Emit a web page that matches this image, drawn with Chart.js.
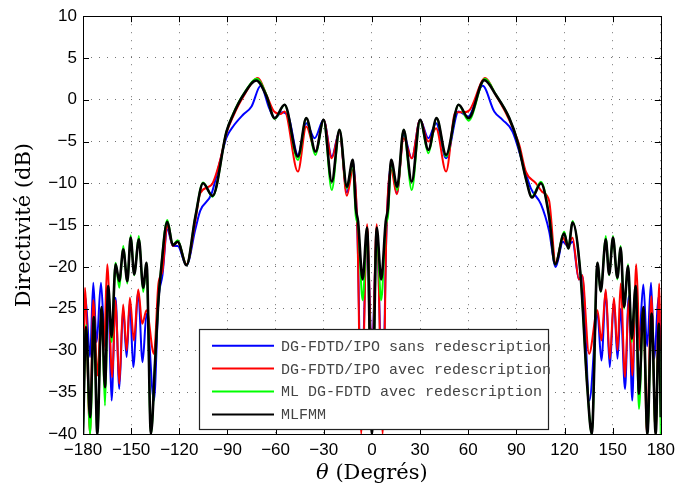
<!DOCTYPE html>
<html>
<head>
<meta charset="utf-8">
<script src="https://cdn.jsdelivr.net/npm/chart.js@4.4.1/dist/chart.umd.min.js"></script>
<style>
  html, body { margin: 0; padding: 0; background: #fff; }
  #wrap { width: 681px; height: 491px; position: relative; }
</style>
</head>
<body>
<div id="wrap"><canvas id="chart" width="681" height="491"></canvas></div>
<script>
// tick labels
const xTicks = [-180, -150, -120, -90, -60, -30, 0, 30, 60, 90, 120, 150, 180];
const yTicks = [-40, -35, -30, -25, -20, -15, -10, -5, 0, 5, 10];

const seriesNames = [
  "DG-FDTD/IPO sans redescription",
  "DG-FDTD/IPO avec redescription",
  "ML DG-FDTD avec redescription",
  "MLFMM",
];

// DG-FDTD/IPO sans redescription (blue)
const blueAngles = [-180, -178.5, -175.6, -173.6, -171.5, -168.8, -166.3, -164.3, -162.2, -159.7, -157.4, -155, -152.8, -150.8, -148.7, -145.6, -142.9, -140.4, -135.8, -133, -130.5, -127.5, -124, -121, -115.5, -110, -107, -100, -94.8, -90.6, -86.5, -80.3, -75, -69.3, -64, -60.6, -56, -52, -46.1, -40.9, -35.7, -30.1, -25, -20.2, -15.6, -11.9, -9, -6.7, -3, 0, 3, 6.7, 9, 12, 15.5, 19.8, 24.8, 30, 35.2, 40, 46.2, 54, 60, 69, 76.2, 81.4, 87.6, 94.9, 99, 105.3, 110.4, 114.5, 119, 122, 125, 129, 131, 135.5, 140.5, 143, 145.7, 148.2, 150.8, 153, 155, 157.7, 160, 162.2, 164.3, 166.5, 169.1, 171.5, 173.9, 176, 178.5, 180];
const blueDb = [-30, -23.6, -30.8, -21.9, -29, -21.9, -29.5, -24, -36, -23.7, -34.6, -25, -30.8, -24.2, -32, -23, -31.4, -25.6, -36, -24, -21, -15.5, -17.5, -17.5, -19.8, -15.5, -13.3, -11.3, -7.5, -4.5, -3.2, -1.8, -0.8, 1.67, -1.0, -2.2, -1.5, -2, -6.6, -2.8, -4.6, -2.4, -6.8, -3.8, -11.1, -7.4, -16, -36, -16.5, -30, -16.5, -36, -16, -7.6, -11.2, -4.2, -7.0, -2.4, -4.6, -2.8, -7.0, -1.4, -2.0, 1.67, -1.4, -2.4, -3.8, -8.2, -10.6, -12.5, -15.7, -20, -17, -17.5, -17, -21.5, -21, -36, -25.6, -31.2, -23, -32, -24, -31, -25, -34.6, -23.5, -36, -22.1, -28.5, -22.1, -29.5, -21.9, -31, -23.6, -30];

// DG-FDTD/IPO avec redescription (red)
const redAngles = [-180, -178.8, -175.6, -173.6, -171, -168.8, -167, -164.9, -161.8, -159.7, -157.4, -155, -152.8, -150.8, -148.3, -145.6, -143.1, -140.4, -135.8, -133, -130.5, -127.5, -124, -121, -115.5, -110, -107, -100, -94.8, -90.6, -86.5, -80.3, -71, -65.5, -61, -57, -54.4, -46.1, -40.9, -35.1, -30.1, -25, -20.2, -15.6, -11.9, -9, -6.7, -3, 0, 3, 6.7, 9, 12, 15.5, 19.8, 24.8, 30, 35.2, 40, 46.2, 52, 57, 61, 70.6, 77.3, 84, 91.8, 95.9, 102.2, 106, 110.4, 114.5, 119, 122, 125, 129, 131, 135.3, 140.5, 143, 145.7, 148.2, 150.8, 153, 155, 157.7, 160, 162.2, 164.7, 167, 169.1, 171.4, 174.1, 176.8, 179, 180];
const redDb = [-36, -22.5, -40, -24, -33, -26, -30, -19.7, -33.2, -24, -34, -24.5, -30, -23.7, -28.8, -22.7, -26.8, -25.2, -30.4, -22, -20.5, -15, -17.5, -17, -19.7, -14.5, -11.2, -10.2, -7.4, -4.0, -2.0, 0.3, 2.6, 0.5, -1.4, -1.7, -1.4, -8.6, -3.2, -6.2, -2.4, -7.0, -3.8, -11.5, -8.4, -16, -40, -14.9, -32, -14.9, -40, -16, -8.4, -11.3, -4.6, -7.0, -2.4, -5.0, -3.4, -8.6, -1.5, -1.5, -1.2, 2.6, 0.5, -1.8, -5.4, -8.6, -10, -11, -12.1, -19.5, -16.5, -17.5, -16.5, -21.5, -21, -30.4, -25.2, -28.8, -22.7, -31, -23.7, -30, -22, -33.2, -24, -33, -19.7, -30, -24.8, -40, -23.5, -40, -22, -30];

// ML DG-FDTD avec redescription (green)
const greenAngles = [-180, -178.1, -175.6, -173.2, -171.1, -168.4, -166.3, -164.3, -162.2, -159.7, -157.4, -154.9, -152.4, -150.3, -148.1, -145.2, -142.5, -140.4, -137.7, -135, -133, -131.5, -127.5, -124, -121, -115.5, -110, -105.2, -99.3, -90.6, -86.5, -80.3, -71.5, -65.8, -60.6, -54.4, -46.1, -40.9, -35.1, -30.1, -25, -20.2, -15.6, -11.9, -10, -8.6, -5.8, -3, 0, 3, 5.8, 8.6, 10, 12, 15.7, 19.8, 24.8, 30, 35.2, 40.3, 46.2, 54, 60.2, 70.5, 77.3, 85.6, 90.7, 95.9, 99.7, 105.3, 110.4, 114.2, 119.8, 122.4, 125, 130, 134.2, 137, 140.5, 142.6, 145.7, 147.8, 150.2, 152.9, 155, 157.1, 159.6, 161.9, 164.3, 166.4, 169.1, 171.6, 174.3, 176.8, 178.8, 180];
const greenDb = [-40, -27, -40, -26, -40, -25, -36.6, -22.3, -29, -19.5, -22.5, -17.5, -22, -16.2, -21, -16.3, -23, -19.5, -40, -31, -24, -20.5, -14.4, -17.4, -16.8, -19.8, -14, -9.9, -11.6, -3.8, -1.7, 0.6, 2.5, 0.6, -2.3, -0.6, -7.2, -2.2, -6.6, -2.4, -10.8, -3.6, -10.6, -7.5, -14, -15, -24, -16, -40, -16, -24, -15, -14, -7.5, -10.8, -3.6, -10.8, -2.4, -6.4, -2.2, -6.8, -0.6, -2.5, 2.5, 0.6, -2.2, -5, -9.4, -11.6, -9.8, -13.8, -19.7, -15.8, -17.8, -14.5, -21, -34.4, -40, -19.5, -23, -16.3, -21, -16.3, -21.5, -17.5, -25, -19.7, -29, -22.3, -37, -25, -40, -26, -40, -27, -40];

// MLFMM (black)
const blackAngles = [-180, -178.1, -175.6, -173.2, -171.1, -168.4, -166.3, -164.3, -162.2, -159.7, -157.4, -154.9, -152.4, -150.3, -148.1, -145.2, -142.5, -140.4, -137.7, -135, -133, -131.5, -127.5, -124, -121, -115.5, -110, -105.2, -99.3, -90.6, -86.5, -80.3, -72, -65.8, -60.6, -54.4, -46.1, -40.9, -35.1, -30.1, -25, -20.2, -15.6, -11.9, -10, -8.6, -5.8, -3, 0, 3, 5.8, 8.6, 10, 12, 15.7, 19.8, 24.8, 30, 35.2, 40.3, 46.2, 54, 60.2, 70, 77.3, 85.6, 90.7, 95.9, 99.7, 105.3, 110.4, 114.2, 119.8, 122.4, 125, 130, 134.2, 137, 140.5, 142.6, 145.7, 147.8, 150.2, 152.9, 155, 157.1, 159.6, 161.9, 164.3, 166.4, 169.1, 171.6, 174.3, 176.8, 178.8, 180];
const blackDb = [-40, -27.2, -38, -26, -40, -24.8, -34.4, -22.3, -28.4, -19.7, -21.7, -17.9, -21.7, -16.5, -20.9, -16.7, -22.5, -19.5, -40, -31, -24, -20.6, -14.6, -17.4, -17, -19.8, -14, -10.0, -11.5, -3.8, -1.8, 0.5, 2.3, 0.5, -2.2, -0.6, -6.8, -2.2, -6.2, -2.4, -9.8, -3.6, -10.4, -7.2, -13, -14.6, -21.5, -15.3, -40, -15.3, -21.5, -14.6, -13, -7.2, -10.4, -3.6, -9.8, -2.4, -6.0, -2.2, -6.6, -0.6, -2.2, 2.35, 0.56, -2.2, -5.0, -9.4, -11.7, -10.0, -14, -19.7, -16, -17.8, -14.7, -21, -34.4, -40, -19.5, -22.9, -16.7, -20.9, -16.5, -21.3, -17.7, -24.8, -19.9, -28.6, -22.3, -35.2, -24.8, -40, -25.6, -40, -26.8, -38];

const toPoints = (xs, ys) => xs.map((x, i) => ({ x: x, y: ys[i] }));
const colors = ["#0000ff", "#ff0000", "#00ff00", "#000000"];

const datasets = [
  { label: seriesNames[0], data: toPoints(blueAngles, blueDb), borderColor: colors[0], borderWidth: 2, order: 4 },
  { label: seriesNames[1], data: toPoints(redAngles, redDb), borderColor: colors[1], borderWidth: 2, order: 3 },
  { label: seriesNames[2], data: toPoints(greenAngles, greenDb), borderColor: colors[2], borderWidth: 2, order: 2 },
  { label: seriesNames[3], data: toPoints(blackAngles, blackDb), borderColor: colors[3], borderWidth: 2.6, order: 1 },
];
datasets.forEach((d) => {
  d.pointRadius = 0;
  d.fill = false;
  d.cubicInterpolationMode = "monotone";
});

const minus = (v) => String(v).replace("-", "\u2212");

// frame, inward ticks, axis titles and legend box
const decorations = {
  id: "decorations",
  afterDraw(chart) {
    const { ctx, chartArea: a, scales } = chart;
    ctx.save();
    ctx.strokeStyle = "#000";
    ctx.lineWidth = 1;
    ctx.beginPath();
    xTicks.forEach((v) => {
      const px = Math.round(scales.x.getPixelForValue(v)) + 0.5;
      ctx.moveTo(px, a.bottom); ctx.lineTo(px, a.bottom - 6);
      ctx.moveTo(px, a.top); ctx.lineTo(px, a.top + 6);
    });
    yTicks.forEach((v) => {
      const py = Math.round(scales.y.getPixelForValue(v)) + 0.5;
      ctx.moveTo(a.left, py); ctx.lineTo(a.left + 6, py);
      ctx.moveTo(a.right, py); ctx.lineTo(a.right - 6, py);
    });
    ctx.stroke();
    ctx.strokeRect(Math.round(a.left) + 0.5, Math.round(a.top) + 0.5, Math.round(a.width), Math.round(a.height));

    // legend
    const bx = 199.5, by = 329.5, bw = 349, bh = 100;
    ctx.fillStyle = "#fff";
    ctx.fillRect(bx, by, bw, bh);
    ctx.strokeStyle = "#222";
    ctx.lineWidth = 1.2;
    ctx.strokeRect(bx, by, bw, bh);
    ctx.font = "15px 'Liberation Mono', 'DejaVu Sans Mono', monospace";
    ctx.textBaseline = "middle";
    ctx.textAlign = "left";
    seriesNames.forEach((name, i) => {
      const y = 345.7 + i * 22.9;
      ctx.strokeStyle = colors[i];
      ctx.lineWidth = 2;
      ctx.beginPath();
      ctx.moveTo(212, y); ctx.lineTo(274, y);
      ctx.stroke();
      ctx.fillStyle = "#444";
      ctx.fillText(name, 281, y + 1);
    });

    // axis titles
    ctx.fillStyle = "#000";
    ctx.textAlign = "center";
    ctx.font = "21px 'DejaVu Serif', serif";
    ctx.save();
    ctx.translate(25, (a.top + a.bottom) / 2);
    ctx.rotate(-Math.PI / 2);
    ctx.fillText("Directivité (dB)", 0, 0);
    ctx.restore();
    const tx = (a.left + a.right) / 2;
    ctx.font = "italic 21px 'DejaVu Serif', serif";
    const th = "\u03b8";
    const rest = " (Degrés)";
    const w1 = ctx.measureText(th).width;
    ctx.font = "21px 'DejaVu Serif', serif";
    const w2 = ctx.measureText(rest).width;
    const start = tx - (w1 + w2) / 2;
    ctx.textAlign = "left";
    ctx.font = "italic 21px 'DejaVu Serif', serif";
    ctx.fillText(th, start, 474);
    ctx.font = "21px 'DejaVu Serif', serif";
    ctx.fillText(rest, start + w1, 474);
    ctx.restore();
  },
};

new Chart(document.getElementById("chart"), {
  type: "line",
  data: { datasets: datasets },
  options: {
    responsive: false,
    animation: false,
    layout: { padding: { top: 14, right: 19, left: 0, bottom: 0 } },
    plugins: { legend: { display: false }, tooltip: { enabled: false } },
    scales: {
      x: {
        type: "linear",
        min: -180,
        max: 180,
        afterBuildTicks: (s) => { s.ticks = xTicks.map((v) => ({ value: v })); },
        afterFit: (s) => { s.height = 57; },
        ticks: {
          callback: (v) => minus(v),
          color: "#000",
          font: { family: "'Liberation Sans', Arial, sans-serif", size: 17 },
          padding: 6,
          maxRotation: 0,
          autoSkip: false,
        },
        grid: { color: "rgba(0,0,0,0.55)", lineWidth: 1, drawTicks: false },
        border: { display: false, dash: [1, 7] },
      },
      y: {
        type: "linear",
        min: -40,
        max: 10,
        afterBuildTicks: (s) => { s.ticks = yTicks.map((v) => ({ value: v })); },
        afterFit: (s) => { s.width = 83; },
        ticks: {
          callback: (v) => minus(v),
          color: "#000",
          font: { family: "'Liberation Sans', Arial, sans-serif", size: 17 },
          padding: 6,
          autoSkip: false,
        },
        grid: { color: "rgba(0,0,0,0.55)", lineWidth: 1, drawTicks: false },
        border: { display: false, dash: [1, 7] },
      },
    },
  },
  plugins: [decorations],
});
</script>
</body>
</html>
